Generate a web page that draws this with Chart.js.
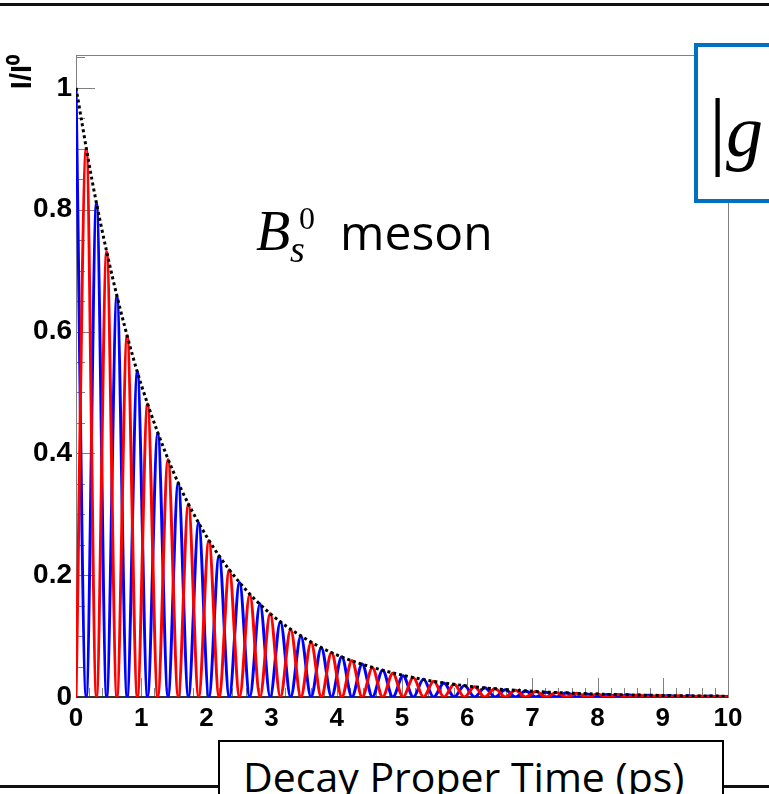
<!DOCTYPE html>
<html>
<head>
<meta charset="utf-8">
<script src="https://cdn.jsdelivr.net/npm/chart.js@4.4.1/dist/chart.umd.min.js"></script>
<style>
  html, body { margin: 0; padding: 0; background: #fff; }
  #wrap { position: relative; width: 769px; height: 794px; overflow: hidden; }
  #chart { position: absolute; left: 0; top: 0; }
  .rule { position: absolute; left: 0; width: 769px; height: 3px; background: #111; }
  .txt { position: absolute; white-space: nowrap; color: #000; }
  #gbox { position: absolute; left: 694px; top: 43px; width: 120px; height: 152px;
          border: 4px solid #0070c0; background: #fff; }
  #xbox { position: absolute; left: 218px; top: 740px; width: 502px; height: 80px;
          border: 2px solid #000; background: #fff; }
</style>
</head>
<body>
<div id="wrap">
  <canvas id="chart" width="769" height="794"></canvas>
  <div class="rule" style="top:3px"></div>
  <div class="rule" style="top:785px"></div>

  <div class="txt" style="left:256px;top:203px;font:italic 56px/56px 'Liberation Serif'">B</div>
  <div class="txt" style="left:290px;top:230px;font:italic 38px/38px 'Liberation Serif'">s</div>
  <div class="txt" style="left:299px;top:202px;font:32px/32px 'Liberation Serif'">0</div>
  <div class="txt" style="left:340px;top:208px;font:48px/48px 'Open Sans'">meson</div>

  <div id="gbox"></div>
  <div class="txt" style="left:709px;top:86px;font:86px/86px 'Liberation Serif'">|</div>
  <div class="txt" style="left:726px;top:94px;font:italic 74px/74px 'Liberation Serif'">g</div>

  <div id="xbox"></div>
  <div class="txt" style="left:243px;top:756px;font:41px/41px 'Open Sans'">Decay Proper Time (ps)</div>
</div>
<script>
// decay proper time (ps), sampled at every maximum / minimum of the oscillation
const times = [0, 0.157, 0.314, 0.470, 0.627, 0.784, 0.941, 1.097, 1.254, 1.411,
  1.568, 1.724, 1.881, 2.038, 2.195, 2.351, 2.508, 2.665, 2.822, 2.978,
  3.135, 3.292, 3.449, 3.605, 3.762, 3.919, 4.076, 4.232, 4.389, 4.546,
  4.703, 4.859, 5.016, 5.173, 5.330, 5.486, 5.643, 5.800, 5.957, 6.113,
  6.270, 6.427, 6.584, 6.740, 6.897, 7.054, 7.211, 7.367, 7.524, 7.681,
  7.838, 7.994, 8.151, 8.308, 8.465, 8.621, 8.778, 8.935, 9.092, 9.248,
  9.405, 9.562, 9.719, 9.875, 10.032];

// unmixed B_s^0 (blue)
const blueIntensity = [1.000, 0, 0.811, 0, 0.658, 0, 0.534, 0, 0.434, 0,
  0.352, 0, 0.286, 0, 0.232, 0, 0.188, 0, 0.153, 0,
  0.124, 0, 0.100, 0, 0.081, 0, 0.066, 0, 0.054, 0,
  0.044, 0, 0.035, 0, 0.029, 0, 0.023, 0, 0.019, 0,
  0.015, 0, 0.012, 0, 0.010, 0, 0.008, 0, 0.007, 0,
  0.005, 0, 0.004, 0, 0.0035, 0, 0.0029, 0, 0.0023, 0,
  0.0019, 0, 0.0015, 0, 0.0013];

// mixed anti-B_s^0 (red)
const redIntensity = [0, 0.901, 0, 0.731, 0, 0.593, 0, 0.481, 0, 0.390,
  0, 0.317, 0, 0.257, 0, 0.209, 0, 0.169, 0, 0.137,
  0, 0.111, 0, 0.090, 0, 0.073, 0, 0.060, 0, 0.048,
  0, 0.039, 0, 0.032, 0, 0.026, 0, 0.021, 0, 0.017,
  0, 0.014, 0, 0.011, 0, 0.009, 0, 0.0074, 0, 0.006,
  0, 0.0048, 0, 0.0039, 0, 0.0032, 0, 0.0026, 0, 0.0021,
  0, 0.0017, 0, 0.0014, 0];

// exponential decay envelope (dotted)
const envTimes = [0, 0.25, 0.5, 0.75, 1, 1.5, 2, 2.5, 3, 3.5, 4, 5, 6, 7, 8, 9, 10];
const envValues = [1, 0.846, 0.717, 0.607, 0.513, 0.368, 0.264, 0.189, 0.135, 0.097,
  0.069, 0.036, 0.018, 0.0094, 0.0048, 0.0025, 0.0013];

const xTickValues = [0, 1, 2, 3, 4, 5, 6, 7, 8, 9, 10];
const yTickValues = [0, 0.2, 0.4, 0.6, 0.8, 1];
const yTickLabels = ['0', '0.2', '0.4', '0.6', '0.8', '1'];

const pts = (xs, ys) => xs.map((x, i) => ({ x, y: ys[i] }));

// ROOT-style frame with inward ticks
const frameTicks = {
  id: 'frameTicks',
  beforeDatasetsDraw(chart) {
    const { ctx, chartArea: a, scales: { x, y } } = chart;
    ctx.save();
    ctx.strokeStyle = '#808080';
    ctx.lineWidth = 1;
    ctx.beginPath();
    for (let i = 0; i <= 50; i++) {
      const px = Math.round(x.getPixelForValue(i * 0.2)) + 0.5;
      const len = i % 5 === 0 ? 19 : 9;
      ctx.moveTo(px, a.bottom); ctx.lineTo(px, a.bottom - len);
    }
    for (let i = 0; i <= 21; i++) {
      const py = Math.round(y.getPixelForValue(i * 0.05)) + 0.5;
      const len = i % 4 === 0 ? 19 : 9;
      ctx.moveTo(a.left, py); ctx.lineTo(a.left + len, py);
    }
    ctx.stroke();
    ctx.strokeRect(a.left + 0.5, a.top + 0.5, a.right - a.left, a.bottom - a.top);
    ctx.strokeStyle = '#333';
    ctx.lineWidth = 2;
    ctx.beginPath();
    ctx.moveTo(a.left, a.bottom); ctx.lineTo(a.right, a.bottom);
    ctx.stroke();
    ctx.restore();
  }
};

const tickFont = { family: 'Liberation Sans', weight: 'bold', size: 26 };

new Chart(document.getElementById('chart'), {
  type: 'line',
  data: {
    datasets: [
      { label: 'envelope', data: pts(envTimes, envValues), borderColor: '#000', borderWidth: 3,
        borderDash: [3, 3], cubicInterpolationMode: 'monotone' },
      { label: 'mixed', data: pts(times, redIntensity), borderColor: '#ff0000', borderWidth: 3,
        cubicInterpolationMode: 'monotone' },
      { label: 'unmixed', data: pts(times, blueIntensity), borderColor: '#0000ff', borderWidth: 3,
        cubicInterpolationMode: 'monotone' }
    ]
  },
  options: {
    responsive: false, animation: false,
    layout: { padding: { top: 55, right: 41, bottom: 57, left: 0 } },
    elements: { point: { radius: 0 } },
    plugins: { legend: { display: false }, tooltip: { enabled: false } },
    scales: {
      x: {
        type: 'linear', min: 0, max: 10,
        afterBuildTicks: s => { s.ticks = xTickValues.map(v => ({ value: v })); },
        afterFit: s => { s.height = 40; },
        grid: { display: false, drawTicks: false }, border: { display: false },
        ticks: { padding: 6, color: '#000', font: tickFont, maxRotation: 0, autoSkip: false,
                 callback: v => String(v) }
      },
      y: {
        min: 0, max: 1.054,
        afterBuildTicks: s => { s.ticks = yTickValues.map(v => ({ value: v })); },
        afterFit: s => { s.width = 76; },
        grid: { display: false, drawTicks: false }, border: { display: false },
        ticks: { padding: 4, color: '#000', font: { ...tickFont, size: 28 }, autoSkip: false,
                 callback: (v, i) => yTickLabels[i] },
        title: { display: true, text: 'I/I⁰', align: 'end', color: '#000',
                 font: { family: 'Liberation Sans', weight: 'bold', size: 29 },
                 padding: { top: 6, bottom: 0 } }
      }
    }
  },
  plugins: [frameTicks]
});
</script>
</body>
</html>
